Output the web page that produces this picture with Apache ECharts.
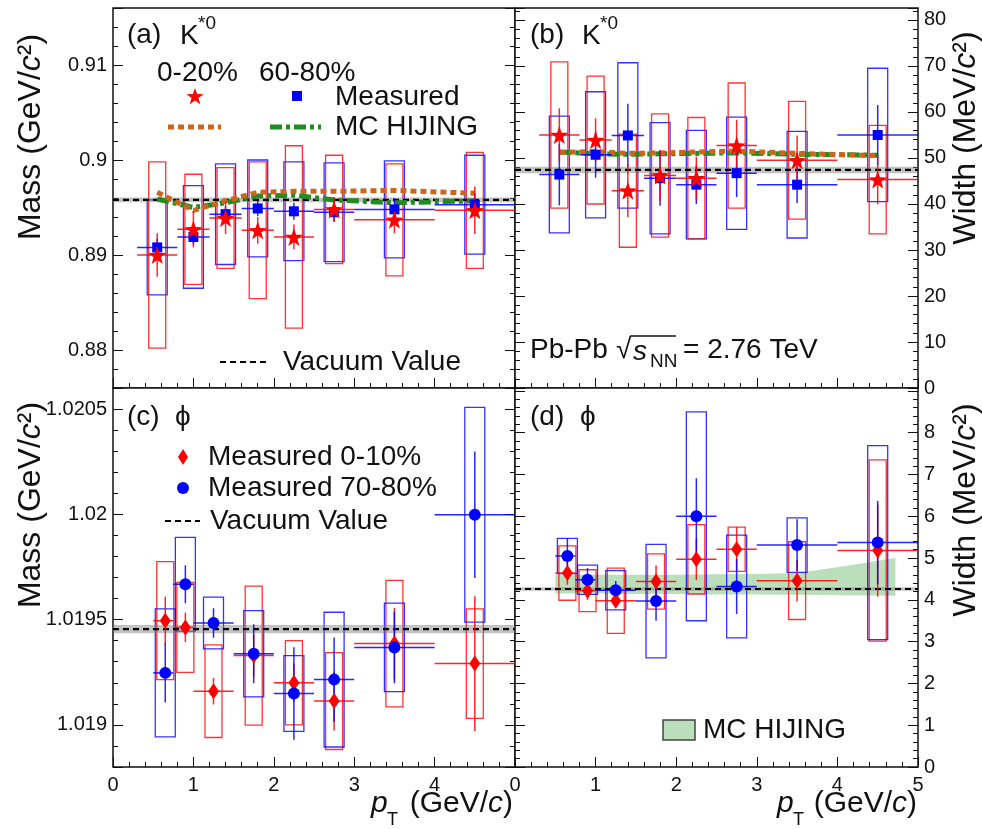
<!DOCTYPE html>
<html>
<head>
<meta charset="utf-8">
<script src="https://cdn.jsdelivr.net/npm/echarts@6.0.0/dist/echarts.min.js"></script>
<style>
html,body{margin:0;padding:0;background:#ffffff;}
#chart{width:982px;height:829px;}
</style>
</head>
<body>
<div id="chart"></div>
<script>
// ================= DATA =================
// K*0 (panels a and b)
const kPt    = [0.55, 1.00, 1.40, 1.80, 2.25, 2.75, 3.50, 4.50];
const kBinLo = [0.3, 0.8, 1.2, 1.6, 2.0, 2.5, 3.0, 4.0];
const kBinHi = [0.8, 1.2, 1.6, 2.0, 2.5, 3.0, 4.0, 5.0];

const kMass020      = [0.8900, 0.8927, 0.8939, 0.8926, 0.8919, 0.8948, 0.8937, 0.8947];
const kMass020Stat  = [0.0023, 0.0019, 0.0017, 0.0014, 0.0013, 0.0013, 0.0014, 0.0025];
const kMass020Sys   = [0.0098, 0.0058, 0.0053, 0.0072, 0.0096, 0.0057, 0.0059, 0.0061];
const kMass6080     = [0.8908, 0.8919, 0.8943, 0.8949, 0.8946, 0.8945, 0.8948, 0.8953];
const kMass6080Stat = [0.0009, 0.0008, 0.0008, 0.0008, 0.0009, 0.0010, 0.0012, 0.0012];
const kMass6080Sys  = [0.0050, 0.0054, 0.0053, 0.0051, 0.0052, 0.0052, 0.0051, 0.0052];
const kMassHijing020  = [0.8966, 0.8947, 0.8957, 0.8966, 0.8967, 0.8967, 0.8968, 0.8965];
const kMassHijing6080 = [0.8959, 0.8950, 0.8955, 0.8962, 0.8963, 0.8958, 0.8955, 0.8957];
const kMassVac = 0.89581, kMassVacErr = 0.00025;

const kWidth020      = [55.0, 53.9, 42.9, 46.2, 45.6, 52.7, 49.5, 45.3];
const kWidth020Stat  = [5.8, 4.7, 5.8, 5.5, 4.7, 5.6, 5.4, 5.4];
const kWidth020Sys   = [15.9, 13.9, 12.3, 13.4, 13.2, 13.6, 12.8, 11.8];
const kWidth6080     = [46.4, 50.7, 54.9, 45.6, 44.2, 46.7, 44.2, 55.0];
const kWidth6080Stat = [6.7, 5.0, 6.9, 6.0, 4.2, 5.2, 4.0, 6.5];
const kWidth6080Sys  = [12.7, 13.7, 15.8, 12.1, 11.8, 12.2, 11.6, 14.5];
const kWidthHijing020  = [51.2, 51.4, 51.0, 51.1, 51.3, 51.5, 51.0, 50.5];
const kWidthHijing6080 = [51.3, 50.9, 50.8, 50.9, 51.0, 51.1, 50.8, 50.6];
const kWidthVac = 47.4, kWidthVacErr = 0.7;

// phi (panels c and d)
const pPt    = [0.65, 0.90, 1.25, 1.75, 2.25, 2.75, 3.50, 4.50];
const pBinLo = [0.5, 0.75, 1.0, 1.5, 2.0, 2.5, 3.0, 4.0];
const pBinHi = [0.75, 1.0, 1.5, 2.0, 2.5, 3.0, 4.0, 5.0];

const pMass010      = [1.019495, 1.019463, 1.019160, 1.019329, 1.019200, 1.019113, 1.019386, 1.019291];
const pMass010Stat  = [0.000114, 0.000070, 0.000063, 0.000100, 0.000090, 0.000140, 0.000170, 0.000320];
const pMass010Sys   = [0.000280, 0.000214, 0.000220, 0.000330, 0.000200, 0.000230, 0.000300, 0.000260];
const pMass7080     = [1.019247, 1.019668, 1.019484, 1.019338, 1.019149, 1.019215, 1.019368, 1.019998];
const pMass7080Stat = [0.000140, 0.000090, 0.000070, 0.000140, 0.000220, 0.000200, 0.000170, 0.000300];
const pMass7080Sys  = [0.000304, 0.000223, 0.000123, 0.000205, 0.000180, 0.000320, 0.000210, 0.000510];
const pMassVac = 1.019455, pMassVacErr = 0.00002;

const pWidth010      = [4.64, 4.22, 3.98, 4.44, 4.97, 5.21, 4.46, 5.18];
const pWidth010Stat  = [0.28, 0.22, 0.15, 0.38, 0.50, 0.53, 0.50, 1.10];
const pWidth010Sys   = [0.65, 0.50, 0.78, 0.66, 0.83, 0.53, 0.93, 2.17];
const pWidth7080     = [5.05, 4.48, 4.23, 3.97, 6.00, 4.32, 5.31, 5.37];
const pWidth7080Stat = [0.43, 0.28, 0.22, 0.47, 0.91, 0.66, 0.62, 1.00];
const pWidth7080Sys  = [0.42, 0.35, 0.47, 1.36, 2.50, 1.23, 0.65, 2.32];
const pWidthVac = 4.26, pWidthVacErr = 0.04;

// MC HIJING band for phi width (panel d)
const bandPt = [0.5, 1.0, 1.5, 2.0, 2.5, 3.0, 3.5, 4.0, 4.72];
const bandLo = [4.15, 4.15, 4.14, 4.14, 4.13, 4.13, 4.12, 4.11, 4.10];
const bandHi = [4.60, 4.60, 4.60, 4.60, 4.61, 4.62, 4.64, 4.78, 5.00];

// tick settings
const xTicks = {min: 0, max: 5, interval: 1};

// ================= STYLE =================
const FONT = '"Liberation Sans", Arial, Helvetica, sans-serif';
const INK = '#111111';
const RED = '#ff0000';
const BLUE = '#0000ff';
const ORANGE = '#cd661d';
const GREEN = '#228b22';
const TICK_FS = 20;

const chart = echarts.init(document.getElementById('chart'), null, {renderer: 'canvas'});

const gridBox = [
  {left: 113, top: 8,   width: 402, height: 380},
  {left: 515, top: 8,   width: 403, height: 380},
  {left: 113, top: 388, width: 402, height: 379},
  {left: 515, top: 388, width: 403, height: 379}
];
const grids = gridBox.map(g => Object.assign({show: true, borderColor: INK, borderWidth: 1.5, backgroundColor: '#ffffff'}, g));

const fmt = v => String(+(+v).toFixed(6));

function xAxis(gi, labels, showMax) {
  return {
    type: 'value', gridIndex: gi, min: xTicks.min, max: xTicks.max, interval: xTicks.interval,
    position: 'bottom',
    axisLine: {show: false}, splitLine: {show: false},
    axisTick: {show: true, inside: true, length: 10, lineStyle: {color: INK, width: 1}},
    minorTick: {show: true, splitNumber: 5, length: 5, lineStyle: {color: INK, width: 1}},
    axisLabel: {show: labels, showMaxLabel: showMax, showMinLabel: true, margin: 8, color: INK,
      fontSize: TICK_FS, fontFamily: FONT, formatter: fmt}
  };
}
function yAxis(gi, pos, labels, cfg) {
  const f = cfg.labelMax != null ? (v => (v > cfg.labelMax ? '' : fmt(v))) : fmt;
  return Object.assign({
    type: 'value', gridIndex: gi, position: pos,
    axisLine: {show: false}, splitLine: {show: false},
    axisTick: {show: true, inside: true, length: 10, lineStyle: {color: INK, width: 1}},
    minorTick: {show: true, splitNumber: 5, length: 5, lineStyle: {color: INK, width: 1}},
    axisLabel: {show: labels, margin: 6, color: INK, fontSize: TICK_FS, fontFamily: FONT, formatter: f,
      showMinLabel: cfg.showMin, showMaxLabel: cfg.showMax}
  }, cfg.range);
}

const rangeA = {range: {min: 0.876, max: 0.916, splitNumber: 4}, showMin: false, showMax: false};
const rangeB = {range: {min: 0, max: 82.6, interval: 10}, showMin: true, showMax: false};
const rangeC = {range: {min: 1.0188, max: 1.0206, splitNumber: 4}, showMin: false, showMax: false};
const rangeD = {range: {min: 0, max: 9.07, interval: 1}, showMin: true, showMax: false, labelMax: 8.5};

const xAxes = [xAxis(0, false, false), xAxis(1, false, false), xAxis(2, true, false), xAxis(3, true, true)];
const yAxes = [
  yAxis(0, 'left', true, rangeA),  yAxis(0, 'right', false, rangeA),
  yAxis(1, 'left', false, rangeB), yAxis(1, 'right', true, rangeB),
  yAxis(2, 'left', true, rangeC),  yAxis(2, 'right', false, rangeC),
  yAxis(3, 'left', false, rangeD), yAxis(3, 'right', true, rangeD)
];

// ---------- series builders ----------
function boxSeries(gi, yi, pt, val, sys, color, halfPx, z) {
  return {
    type: 'custom', xAxisIndex: gi, yAxisIndex: yi, silent: true, z: z,
    data: pt.map((p, i) => [p, val[i] - sys[i], val[i] + sys[i]]),
    renderItem: (params, api) => {
      const top = api.coord([api.value(0), api.value(2)]);
      const bot = api.coord([api.value(0), api.value(1)]);
      return {type: 'rect', shape: {x: top[0] - halfPx, y: top[1], width: 2 * halfPx, height: bot[1] - top[1]},
        style: {fill: 'none', stroke: color, lineWidth: 1.3, opacity: 0.8}};
    }
  };
}
function errSeries(gi, yi, pt, lo, hi, val, stat, color, z) {
  return {
    type: 'custom', xAxisIndex: gi, yAxisIndex: yi, silent: true, z: z,
    data: pt.map((p, i) => [p, val[i], stat[i], lo[i], hi[i]]),
    renderItem: (params, api) => {
      const x = api.value(0), y = api.value(1), s = api.value(2);
      const c = api.coord([x, y]);
      const t = api.coord([x, y + s]);
      const b = api.coord([x, y - s]);
      const l = api.coord([api.value(3), y]);
      const r = api.coord([api.value(4), y]);
      return {type: 'group', children: [
        {type: 'line', shape: {x1: c[0], y1: t[1], x2: c[0], y2: b[1]}, style: {stroke: color, lineWidth: 1.5, opacity: 0.85}},
        {type: 'line', shape: {x1: l[0], y1: c[1], x2: r[0], y2: c[1]}, style: {stroke: color, lineWidth: 1.5, opacity: 0.85}}
      ]};
    }
  };
}
const STAR = 'path://M0,-10 L2.351,-3.236 L9.511,-3.09 L3.804,1.236 L5.878,8.09 L0,4 L-5.878,8.09 L-3.804,1.236 L-9.511,-3.09 L-2.351,-3.236 Z';
function markerSeries(gi, yi, pt, val, color, symbol, size, z) {
  return {
    type: 'scatter', xAxisIndex: gi, yAxisIndex: yi, silent: true, z: z,
    symbol: symbol, symbolSize: size, symbolKeepAspect: false,
    itemStyle: {color: color, opacity: 1},
    data: pt.map((p, i) => [p, val[i]])
  };
}
function vacSeries(gi, yi, v, e, z) {
  return {
    type: 'custom', xAxisIndex: gi, yAxisIndex: yi, silent: true, z: z,
    data: [[v, e]],
    renderItem: (params, api) => {
      const cs = params.coordSys;
      const yv = api.coord([0, api.value(0)])[1];
      const y1 = api.coord([0, api.value(0) + api.value(1)])[1];
      const y2 = api.coord([0, api.value(0) - api.value(1)])[1];
      return {type: 'group', children: [
        {type: 'rect', shape: {x: cs.x, y: y1, width: cs.width, height: Math.max(1, y2 - y1)},
          style: {fill: 'rgba(120,120,120,0.45)'}},
        {type: 'line', shape: {x1: cs.x, y1: yv, x2: cs.x + cs.width, y2: yv},
          style: {stroke: '#000', lineWidth: 2.2, lineDash: [6, 4]}}
      ]};
    }
  };
}
function lineSeries(gi, yi, pt, val, color, dash, z) {
  return {
    type: 'line', xAxisIndex: gi, yAxisIndex: yi, silent: true, z: z,
    showSymbol: false, symbol: 'none', smooth: false,
    lineStyle: {color: color, width: 5, type: dash, cap: 'butt'},
    data: pt.map((p, i) => [p, val[i]])
  };
}
function bandSeries(gi, yi, z) {
  return {
    type: 'custom', xAxisIndex: gi, yAxisIndex: yi, silent: true, z: z,
    data: bandPt.map((p, i) => [p, bandLo[i], bandHi[i]]),
    renderItem: (params, api) => {
      if (params.dataIndex !== 0) return {type: 'group', children: []};
      const pts = [];
      for (let i = 0; i < bandPt.length; i++) pts.push(api.coord([bandPt[i], bandHi[i]]));
      for (let i = bandPt.length - 1; i >= 0; i--) pts.push(api.coord([bandPt[i], bandLo[i]]));
      return {type: 'polygon', shape: {points: pts}, style: {fill: 'rgba(120,190,120,0.5)', stroke: 'none'}};
    }
  };
}

const RB = 8.5, BB = 10; // box half widths in px
const STAR_SIZE = 18;
const series = [];
// Panel (a)
series.push(boxSeries(0, 0, kPt, kMass6080, kMass6080Sys, BLUE, BB, 3));
series.push(boxSeries(0, 0, kPt, kMass020, kMass020Sys, RED, RB, 3));
series.push(vacSeries(0, 0, kMassVac, kMassVacErr, 4));
series.push(lineSeries(0, 0, kPt, kMassHijing6080, GREEN, [12, 4, 4, 4], 5));
series.push(lineSeries(0, 0, kPt, kMassHijing020, ORANGE, [6, 4], 5));
series.push(errSeries(0, 0, kPt, kBinLo, kBinHi, kMass6080, kMass6080Stat, BLUE, 6));
series.push(errSeries(0, 0, kPt, kBinLo, kBinHi, kMass020, kMass020Stat, RED, 6));
series.push(markerSeries(0, 0, kPt, kMass6080, BLUE, 'rect', 10, 7));
series.push(markerSeries(0, 0, kPt, kMass020, RED, STAR, STAR_SIZE, 8));
// Panel (b)
series.push(boxSeries(1, 3, kPt, kWidth6080, kWidth6080Sys, BLUE, BB, 3));
series.push(boxSeries(1, 3, kPt, kWidth020, kWidth020Sys, RED, RB, 3));
series.push(vacSeries(1, 3, kWidthVac, kWidthVacErr, 4));
series.push(lineSeries(1, 3, kPt, kWidthHijing6080, GREEN, [12, 4, 4, 4], 5));
series.push(lineSeries(1, 3, kPt, kWidthHijing020, ORANGE, [6, 4], 5));
series.push(errSeries(1, 3, kPt, kBinLo, kBinHi, kWidth6080, kWidth6080Stat, BLUE, 6));
series.push(errSeries(1, 3, kPt, kBinLo, kBinHi, kWidth020, kWidth020Stat, RED, 6));
series.push(markerSeries(1, 3, kPt, kWidth6080, BLUE, 'rect', 10, 7));
series.push(markerSeries(1, 3, kPt, kWidth020, RED, STAR, STAR_SIZE, 8));
// Panel (c)
series.push(boxSeries(2, 4, pPt, pMass010, pMass010Sys, RED, RB, 3));
series.push(boxSeries(2, 4, pPt, pMass7080, pMass7080Sys, BLUE, BB, 3));
series.push(vacSeries(2, 4, pMassVac, pMassVacErr, 4));
series.push(errSeries(2, 4, pPt, pBinLo, pBinHi, pMass010, pMass010Stat, RED, 6));
series.push(errSeries(2, 4, pPt, pBinLo, pBinHi, pMass7080, pMass7080Stat, BLUE, 6));
series.push(markerSeries(2, 4, pPt, pMass010, RED, 'diamond', [11, 16], 7));
series.push(markerSeries(2, 4, pPt, pMass7080, BLUE, 'circle', 12, 8));
// Panel (d)
series.push(bandSeries(3, 7, 2));
series.push(boxSeries(3, 7, pPt, pWidth010, pWidth010Sys, RED, RB, 3));
series.push(boxSeries(3, 7, pPt, pWidth7080, pWidth7080Sys, BLUE, BB, 3));
series.push(vacSeries(3, 7, pWidthVac, pWidthVacErr, 4));
series.push(errSeries(3, 7, pPt, pBinLo, pBinHi, pWidth010, pWidth010Stat, RED, 6));
series.push(errSeries(3, 7, pPt, pBinLo, pBinHi, pWidth7080, pWidth7080Stat, BLUE, 6));
series.push(markerSeries(3, 7, pPt, pWidth010, RED, 'diamond', [11, 16], 7));
series.push(markerSeries(3, 7, pPt, pWidth7080, BLUE, 'circle', 12, 8));

// ---------- text & legend graphics ----------
const LFS = 28;
function txt(x, y, text, opt) {
  opt = opt || {};
  return {
    type: 'text', x: x, y: y, z: 100, rotation: opt.rotation || 0, silent: true,
    style: Object.assign({
      text: text, fill: INK,
      font: (opt.italic ? 'italic ' : '') + (opt.size || LFS) + 'px ' + FONT,
      textAlign: opt.align || 'left', align: opt.align || 'left',
      textVerticalAlign: 'middle', verticalAlign: 'middle'
    }, opt.rich ? {rich: opt.rich} : {})
  };
}
function starPoints(cx, cy, R, r) {
  const pts = [];
  for (let k = 0; k < 10; k++) {
    const ang = -Math.PI / 2 + k * Math.PI / 5;
    const rad = k % 2 === 0 ? R : r;
    pts.push([cx + rad * Math.cos(ang), cy + rad * Math.sin(ang)]);
  }
  return pts;
}
const titleRich = {
  n: {fontSize: 32, fontFamily: FONT, color: INK},
  i: {fontSize: 32, fontFamily: FONT, fontStyle: 'italic', color: INK}
};
const ptRich = {
  n: {fontSize: 30, fontFamily: FONT, color: INK},
  i: {fontSize: 30, fontFamily: FONT, fontStyle: 'italic', color: INK}
};
const graphics = [
  // panel (a)
  txt(127, 35, '(a)'), txt(180, 36, 'K'), txt(198, 24, '*0', {size: 19}),
  txt(157, 73, '0-20%'), txt(259, 73, '60-80%'),
  {type: 'polygon', z: 100, silent: true, shape: {points: starPoints(195, 97, 9, 3.6)}, style: {fill: RED}},
  {type: 'rect', z: 100, silent: true, shape: {x: 292, y: 91, width: 10, height: 10}, style: {fill: BLUE}},
  txt(335, 97, 'Measured'),
  {type: 'line', z: 100, silent: true, shape: {x1: 168, y1: 127, x2: 221, y2: 127}, style: {stroke: ORANGE, lineWidth: 5, lineDash: [6, 4]}},
  {type: 'line', z: 100, silent: true, shape: {x1: 270, y1: 127, x2: 321, y2: 127}, style: {stroke: GREEN, lineWidth: 5, lineDash: [12, 4, 4, 4]}},
  txt(335, 127, 'MC HIJING'),
  {type: 'line', z: 100, silent: true, shape: {x1: 220, y1: 362, x2: 267, y2: 362}, style: {stroke: '#000', lineWidth: 2, lineDash: [6, 4]}},
  txt(283, 362, 'Vacuum Value'),
  // panel (b)
  txt(530, 35, '(b)'), txt(582, 36, 'K'), txt(600, 24, '*0', {size: 19}),
  txt(530, 350, 'Pb-Pb'), txt(616, 350, '\u221A'),
  {type: 'line', z: 100, silent: true, shape: {x1: 630, y1: 336, x2: 676, y2: 336}, style: {stroke: INK, lineWidth: 1.3}},
  txt(633, 352, 's', {italic: true}), txt(650, 362, 'NN', {size: 19}),
  txt(683, 350, '= 2.76 TeV'),
  // panel (c)
  txt(127, 417, '(c)'), txt(175, 417, '\u03D5'),
  {type: 'polygon', z: 100, silent: true, shape: {points: [[183, 449], [188, 457], [183, 465], [178, 457]]}, style: {fill: RED}},
  txt(208, 457, 'Measured 0-10%'),
  {type: 'circle', z: 100, silent: true, shape: {cx: 183, cy: 488, r: 6}, style: {fill: BLUE}},
  txt(208, 488, 'Measured 70-80%'),
  {type: 'line', z: 100, silent: true, shape: {x1: 165, y1: 521, x2: 200, y2: 521}, style: {stroke: '#000', lineWidth: 2, lineDash: [6, 4]}},
  txt(210, 521, 'Vacuum Value'),
  // panel (d)
  txt(530, 417, '(d)'), txt(580, 417, '\u03D5'),
  {type: 'rect', z: 100, silent: true, shape: {x: 663, y: 720, width: 32, height: 20}, style: {fill: 'rgba(120,190,120,0.5)', stroke: '#444', lineWidth: 1.5}},
  txt(703, 730, 'MC HIJING'),
  // axis titles
  txt(31, 137, '{n|Mass (GeV/}{i|c}{n|\u00B2)}', {rotation: Math.PI / 2, align: 'center', rich: titleRich, size: 32}),
  txt(31, 505, '{n|Mass (GeV/}{i|c}{n|\u00B2)}', {rotation: Math.PI / 2, align: 'center', rich: titleRich, size: 32}),
  txt(966, 138, '{n|Width (MeV/}{i|c}{n|\u00B2)}', {rotation: Math.PI / 2, align: 'center', rich: titleRich, size: 32}),
  txt(966, 510, '{n|Width (MeV/}{i|c}{n|\u00B2)}', {rotation: Math.PI / 2, align: 'center', rich: titleRich, size: 32}),
  // pT titles
  txt(371, 804, 'p', {italic: true, size: 30}), txt(387, 820, 'T', {size: 18}),
  txt(513, 804, '{n|(GeV/}{i|c}{n|)}', {align: 'right', size: 30, rich: ptRich}),
  txt(777, 804, 'p', {italic: true, size: 30}), txt(793, 820, 'T', {size: 18}),
  txt(917, 804, '{n|(GeV/}{i|c}{n|)}', {align: 'right', size: 30, rich: ptRich})
];

chart.setOption({
  animation: false,
  backgroundColor: '#ffffff',
  grid: grids,
  xAxis: xAxes,
  yAxis: yAxes,
  series: series,
  graphic: {elements: graphics}
});
</script>
</body>
</html>
